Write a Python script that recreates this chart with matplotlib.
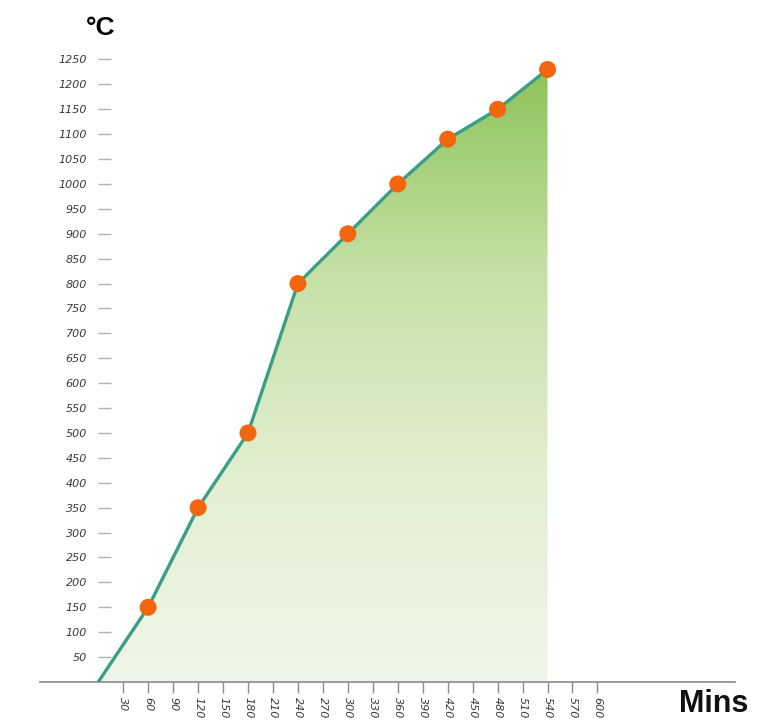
"""
Kiln firing curve: temperature against elapsed time, with a green
gradient fill under the curve.
"""

import numpy as np
import matplotlib.pyplot as plt
from matplotlib.colors import LinearSegmentedColormap
from matplotlib.patches import Polygon

# Firing schedule (minutes, degrees C)
minutes = [0, 60, 120, 180, 240, 300, 360, 420, 480, 540]
temps = [0, 150, 350, 500, 800, 900, 1000, 1090, 1150, 1230]

# Axis ticks
x_ticks = list(range(30, 601, 30))
y_ticks = list(range(50, 1251, 50))

LINE_COLOR = '#3a9e86'
MARKER_COLOR = '#f2660f'
AXIS_COLOR = '#8a8a8a'
TEXT_COLOR = '#3a3a3a'


def gradient_fill(ax, xs, ys):
    """Fill the area under the curve with a vertical green gradient."""
    cmap = LinearSegmentedColormap.from_list(
        'kiln_green', ['#f0f6e9', '#e2efd2', '#c6e0a6', '#8dc45a'])
    grad = np.linspace(0, 1, 256).reshape(-1, 1)
    top = max(ys)
    img = ax.imshow(grad, cmap=cmap, aspect='auto', origin='lower',
                    extent=[xs[0], xs[-1], 0, top], zorder=1)
    verts = list(zip(xs, ys)) + [(xs[-1], 0), (xs[0], 0)]
    clip = Polygon(verts, closed=True, facecolor='none', edgecolor='none')
    ax.add_patch(clip)
    img.set_clip_path(clip)


def plot_firing_curve(output_file):
    fig = plt.figure(figsize=(7.66, 7.22), dpi=100)
    ax = fig.add_axes([0.0522, 0.0554, 0.907, 0.8967])

    gradient_fill(ax, minutes, temps)
    ax.plot(minutes, temps, color=LINE_COLOR, linewidth=2.4, zorder=3,
            solid_capstyle='butt')
    ax.scatter(minutes[1:], temps[1:], s=150, color=MARKER_COLOR,
               edgecolors='none', zorder=4)

    ax.set_xlim(-70, 765)
    ax.set_ylim(0, 1300)

    # Only the bottom axis line is drawn
    for side in ['top', 'right', 'left']:
        ax.spines[side].set_visible(False)
    ax.spines['bottom'].set_color(AXIS_COLOR)
    ax.spines['bottom'].set_linewidth(1.2)

    # y ticks: short dashes just right of x=0, labels to their left
    ax.spines['left'].set_position(('data', 0))
    ax.set_yticks(y_ticks)
    ax.set_yticklabels([str(v) for v in y_ticks], fontsize=8,
                       style='italic', color=TEXT_COLOR)
    ax.tick_params(axis='y', direction='in', length=9, width=1.0,
                   color='#b0b0b0', pad=8)

    ax.set_xticks(x_ticks)
    ax.set_xticklabels([str(v) for v in x_ticks], fontsize=8,
                       style='italic', color=TEXT_COLOR, rotation=-90)
    ax.tick_params(axis='x', direction='out', length=8, width=1.0,
                   color=AXIS_COLOR, pad=3)

    fig.text(86 / 766, 1 - 40 / 722, '°C', fontsize=19, color='black',
             family='Liberation Sans', fontweight='bold',
             ha='left', va='bottom')
    fig.text(679 / 766, 1 - 719 / 722, 'Mins', fontsize=22, color='#111111',
             family='Liberation Sans', fontweight='bold',
             ha='left', va='bottom')

    plt.savefig(output_file, dpi=100)
    plt.close()


if __name__ == '__main__':
    plot_firing_curve('out.png')
